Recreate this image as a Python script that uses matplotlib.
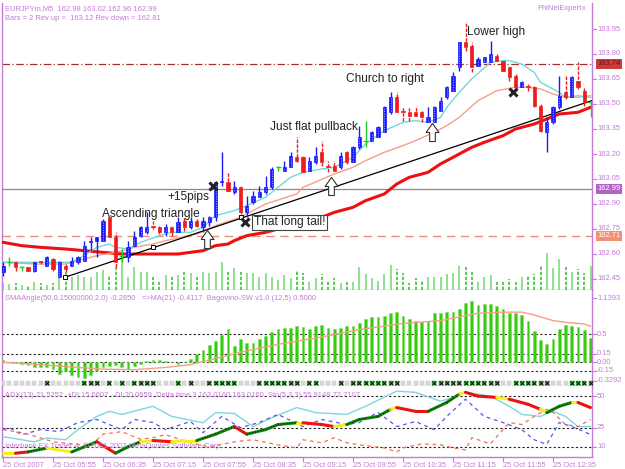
import matplotlib
matplotlib.use("Agg")
import matplotlib.pyplot as plt
from matplotlib.path import Path

W, H = 625, 469
VIOLET = '#c47ad6'
SMALL = dict(family='Liberation Sans', fontsize=5.4, color=VIOLET)

# ---------------- data ----------------
opens = [162.49,162.55,162.55,162.52,162.52,162.50,162.56,162.53,162.57,162.46,
         162.53,162.53,162.55,162.56,162.67,162.68,162.68,162.82,162.70,162.59,
         162.58,162.65,162.71,162.73,162.77,162.76,162.73,162.76,162.73,162.80,
         162.76,162.80,162.76,162.79,162.82,163.03,163.03,162.97,163.00,162.85,
         162.91,162.94,162.97,163.00,163.12,163.10,163.12,163.18,163.18,163.10,
         163.15,163.21,163.13,163.13,163.12,163.21,163.15,163.24,163.28,163.28,
         163.30,163.33,163.45,163.54,163.46,163.45,163.45,163.45,163.39,163.39,
         163.46,163.54,163.58,163.72,163.87,163.85,163.73,163.75,163.75,163.79,
         163.76,163.72,163.67,163.60,163.61,163.60,163.49,163.33,163.39,163.48,
         163.57,163.54,163.64,163.58,163.51]
highs = [162.55,162.58,162.56,162.53,162.53,162.55,162.56,162.59,162.58,162.56,
         162.54,162.58,162.59,162.68,162.70,162.70,162.81,162.82,162.73,162.63,
         162.68,162.74,162.77,162.85,162.80,162.77,162.78,162.77,162.82,162.82,
         162.82,162.81,162.82,162.83,163.04,163.21,163.09,163.04,163.01,162.95,
         162.98,163.01,163.07,163.12,163.13,163.16,163.21,163.30,163.19,163.18,
         163.24,163.28,163.16,163.16,163.21,163.22,163.25,163.37,163.40,163.34,
         163.37,163.49,163.57,163.57,163.48,163.48,163.49,163.46,163.48,163.49,
         163.54,163.61,163.69,163.87,163.99,163.87,163.78,163.78,163.88,163.80,
         163.76,163.72,163.68,163.64,163.62,163.61,163.50,163.42,163.49,163.67,
         163.67,163.67,163.75,163.60,163.51]
lows = [162.47,162.53,162.50,162.50,162.50,162.49,162.54,162.53,162.50,162.46,
        162.49,162.53,162.54,162.56,162.62,162.58,162.68,162.70,162.52,162.55,
        162.55,162.65,162.70,162.72,162.75,162.72,162.71,162.71,162.73,162.74,
        162.75,162.76,162.73,162.77,162.80,163.01,162.98,162.96,162.84,162.82,
        162.90,162.94,162.96,162.99,163.10,163.10,163.12,163.15,163.09,163.10,
        163.14,163.13,163.09,163.10,163.11,163.14,163.15,163.23,163.24,163.28,
        163.30,163.33,163.44,163.45,163.40,163.40,163.43,163.39,163.39,163.39,
        163.46,163.53,163.58,163.70,163.82,163.69,163.73,163.75,163.75,163.76,
        163.70,163.64,163.58,163.60,163.58,163.48,163.33,163.21,163.38,163.47,
        163.53,163.54,163.59,163.49,163.42]
closes = [162.53,162.55,162.52,162.52,162.50,162.55,162.55,162.58,162.51,162.55,
          162.51,162.56,162.58,162.65,162.68,162.70,162.80,162.70,162.55,162.59,
          162.64,162.70,162.76,162.76,162.76,162.73,162.76,162.73,162.79,162.76,
          162.80,162.77,162.80,162.82,163.03,163.04,162.98,163.00,162.85,162.89,
          162.95,162.97,163.00,163.11,163.12,163.12,163.19,163.16,163.09,163.16,
          163.19,163.15,163.12,163.10,163.19,163.15,163.24,163.30,163.28,163.33,
          163.36,163.48,163.54,163.45,163.45,163.43,163.43,163.42,163.42,163.48,
          163.52,163.60,163.67,163.87,163.84,163.72,163.77,163.78,163.80,163.76,
          163.70,163.66,163.60,163.63,163.60,163.49,163.34,163.39,163.48,163.55,
          163.54,163.66,163.60,163.51,163.51]
volumes = [7,6,7,5,5,8,7,5,7,13,18,13,15,13,13,18,20,15,23,40,
           13,23,18,18,13,8,15,13,15,18,17,13,18,17,18,28,18,22,18,17,
           17,13,17,13,10,15,12,20,17,8,12,16,8,12,7,8,8,23,16,12,
           9,16,25,21,17,7,12,10,13,13,13,16,17,24,23,18,8,13,15,8,
           8,11,8,13,15,16,25,37,22,31,23,18,21,17,24]

# moving averages (bar index, price)
ma_fast_idx = [0,3,6,9,11,13,15,17,18,20,22,25,27,30,32,34,37,39,42,44,46,48,51,53,56,58,61,64,66,68,70,71,73,75,78,80,81,83,85,86,89,90,92,94]
ma_fast_val = [162.55,162.55,162.55,162.55,162.55,162.59,162.64,162.66,162.64,162.63,162.67,162.71,162.73,162.73,162.76,162.83,162.86,162.89,162.94,163.00,163.06,163.09,163.11,163.12,163.18,163.26,163.34,163.39,163.40,163.39,163.42,163.48,163.57,163.65,163.75,163.76,163.76,163.74,163.69,163.63,163.57,163.54,163.54,163.55]
ma_mid_idx = [0,5,10,13,15,18,21,24,26,31,34,38,42,47,48,53,56,58,61,64,66,69,71,73,76,79,82,84,86,88,90,92,94]
ma_mid_val = [162.55,162.54,162.54,162.57,162.59,162.61,162.64,162.66,162.68,162.72,162.77,162.82,162.90,162.96,163.00,163.08,163.12,163.16,163.21,163.25,163.28,163.33,163.37,163.42,163.52,163.58,163.60,163.60,163.59,163.56,163.54,163.55,163.54]
ma_slow_idx = [0,3,6,10,13,16,19,22,25,28,30,32,34,36,37,39,42,44,46,48,51,53,56,58,61,63,65,68,70,72,75,77,80,82,85,87,89,92,94]
ma_slow_val = [162.67,162.65,162.64,162.63,162.62,162.61,162.60,162.60,162.60,162.60,162.61,162.62,162.65,162.66,162.68,162.71,162.73,162.75,162.78,162.79,162.82,162.85,162.88,162.92,162.96,163.02,163.06,163.09,163.14,163.18,163.24,163.27,163.31,163.35,163.38,163.41,163.44,163.45,163.48]

trend_idx = [9.9, 94.2]
trend_val = [162.46, 163.52]
trend_marks_idx = [9.9, 24, 38]
trend_marks_val = [162.46, 162.64, 162.82]

level_dashdot = 163.74
level_solid = 162.99
level_dash = 162.71
price_ticks = [163.95,163.80,163.65,163.50,163.35,163.20,163.05,162.90,162.75,162.60,162.45]

notes = [("Lower high", 74.3, 163.93), ("Church to right", 54.9, 163.65),
         ("Just flat pullback", 42.7, 163.36), ("+15pips", 26.3, 162.94),
         ("Ascending triangle", 15.8, 162.84)]
crosses_idx = [33.6, 38.7, 81.6]
crosses_val = [163.01, 162.79, 163.57]
arrows_idx = [32.7, 52.5, 68.6]
arrows_val = [162.69, 163.01, 163.33]

# SMAAngle histogram
angle = [0.05,0.01,-0.015,-0.03,-0.05,-0.09,-0.08,-0.08,-0.12,-0.21,
         -0.16,-0.22,-0.26,-0.27,-0.22,-0.15,-0.09,-0.06,-0.05,-0.09,
         -0.12,-0.06,-0.03,0.03,0.04,0.04,0.03,0.01,-0.02,0.00,
         0.06,0.15,0.22,0.30,0.37,0.49,0.59,0.29,0.42,0.35,
         0.35,0.41,0.47,0.54,0.59,0.61,0.61,0.64,0.62,0.59,
         0.64,0.66,0.61,0.59,0.61,0.64,0.64,0.69,0.76,0.80,
         0.80,0.83,0.88,0.89,0.83,0.76,0.74,0.71,0.74,0.88,
         0.88,0.89,0.89,0.95,1.05,1.08,1.01,1.03,1.03,1.00,
         0.94,0.88,0.88,0.84,0.74,0.55,0.39,0.33,0.42,0.59,
         0.66,0.64,0.63,0.58,0.43]
angle_ma_idx = [0,6,12,16,21,26,30,33,38,44,51,57,64,70,76,80,83,85,88,90,93,94]
angle_ma_val = [0.0,-0.04,-0.09,-0.12,-0.13,-0.09,-0.04,0.04,0.18,0.32,0.45,0.58,0.69,0.74,0.87,0.89,0.89,0.84,0.74,0.71,0.68,0.64]
angle_levels = [0.5, 0.15, 0.0, -0.15]
strip_green = [7,13,14,15,17,19,21,22,23,24,28,30,33,34,35,36,37,41,42,43,44,45,46,47,49,50,54,
               56,57,58,59,60,61,62,63,69,70,71,72,73,74,75,76,77,78,79,82,83,84,85,86,87,91,92,93,94]

# ADX panel
adx_idx = [0,5,7,10,12,15,17,19,24,27,32,34,37,40,43,47,50,55,58,63,66,70,72,74,78,81,83,86,88,90,92,94]
adx_val = [18,14,17,15.6,23.6,34,38,35.6,42,34,29,37,36.4,26,33,41,37,35.6,42,54,53,46,49,53,50,42,35.6,34,38,34,26,26]
pdi_idx = [0,1,3,6,9,12,15,19,21,24,26,30,32,35,38,41,44,48,51,55,57,60,63,66,69,71,74,77,80,83,85,87,89,91,93,94]
pdi_val = [23.6,25.2,19.6,23.6,22,29.2,31.6,23.6,31.6,29.2,23.6,30,21.2,34,25.2,29.2,35.6,26,31.6,27.6,29.2,37.2,26,30,23.6,34,47.6,34,29.2,23.6,15.6,12,29.2,26,22,19.6]
mdi_idx = [0,3,6,8,11,14,16,19,22,24,26,30,33,37,40,44,47,48,51,53,55,57,61,63,64,67,70,72,74,75,78,81,83,85,87,88,90,92,94]
mdi_val = [23.6,21.2,17.2,14,12.4,10.8,20,22,16,17.2,19.6,13.2,10,14,15.6,11.6,9.2,15.6,13.2,17.2,13.2,11.6,9.2,6,9.2,12.4,11.6,9.2,7.6,17.2,12.4,29.2,27.6,34,39.6,37.2,27.6,26,31.6]
sto_idx = [0,2,4,7,11,13,15,18,20,22,24,27,29,31,34,37,39,42,44,47,48,51,53,55,57,60,62,63,66,68,71,73,74,76,79,81,84,86,87,89,91,92,94]
sto_val = [5,5,6,9,6,10,14,5,10,14,15,14,15,15,20,26,20,23.6,27.6,29,29,27.6,26,27.6,31.6,34,39.6,41,38,38,45,51.6,53,50,49,47.6,43.6,39.6,37,42,45,45,41]
sto_col = ['y','r','g','y','g','g','r','g','g','y','r','y','y','g','g','r','g','g','g','y','r','r','y','g','g','g','y','r','r','g','g','y','r','r','y','r','r','y','g','g','y','r','r']
adx_levels = [50, 25, 10]

time_labels = ["25 Oct 2007","25 Oct 05:55","25 Oct 06:35","25 Oct 07:15","25 Oct 07:55",
               "25 Oct 08:35","25 Oct 09:15","25 Oct 09:55","25 Oct 10:35","25 Oct 11:15",
               "25 Oct 11:55","25 Oct 12:35"]
time_label_idx = [0,8,16,24,32,40,48,56,64,72,80,88]

# ---------------- layout helpers ----------------
fig = plt.figure(figsize=(W/100, H/100), dpi=100)
fig.patch.set_facecolor('white')

def ax_at(x0, y0, x1, y1):
    return fig.add_axes([x0/W, 1 - y1/H, (x1-x0)/W, (y1-y0)/H])

def ftext(x, y, s, **kw):
    fig.text(x/W, 1 - y/H, s, **kw)

XL = (-0.16, 94.24)
ax1 = ax_at(2, 3, 592, 290)
ax2 = ax_at(2, 290, 592, 386)
ax3 = ax_at(2, 386, 592, 457)
for a in (ax1, ax2, ax3):
    a.set_xlim(*XL)
    a.set_xticks([])
    a.set_yticks([])
    a.set_facecolor('white')
    for s in a.spines.values():
        s.set_color(VIOLET)
        s.set_linewidth(1.0)
    a.spines['top'].set_visible(False)

ax1.set_ylim(162.384, 164.106)

# volumes (1 unit = 1 px = 0.006 price)
for i, v in enumerate(volumes):
    if closes[i] >= opens[i]:
        ax1.vlines(i, 162.384, 162.384 + v * 0.006, color='#8fe08f', lw=1.4, zorder=1)
    else:
        ax1.vlines(i, 162.384, 162.384 + v * 0.006, color='#3cc23c', lw=1.2, ls=(0, (2, 1)), zorder=1)

# horizontal levels
ax1.axhline(level_dashdot, color='#a03030', lw=0.9, ls=(0, (6, 2, 1, 2)), zorder=2)
ax1.axhline(level_solid, color='#888888', lw=0.9, zorder=2)
ax1.axhline(level_dash, color='#f08a78', lw=1.0, ls=(0, (6, 4)), zorder=2)

# moving averages
ax1.plot(ma_slow_idx, ma_slow_val, color='#ee1010', lw=2.2, zorder=3)
ax1.plot(ma_mid_idx, ma_mid_val, color='#f4a088', lw=1.0, zorder=3)
ax1.plot(ma_fast_idx, ma_fast_val, color='#70d8dc', lw=1.0, zorder=3)

# trendline
ax1.plot(trend_idx, trend_val, color='black', lw=0.9, zorder=4)
ax1.plot(trend_marks_idx, trend_marks_val, 's', ms=3.5, mfc='white', mec='black', mew=0.7, zorder=5)

# candles
for i in range(len(opens)):
    o, h, l, c = opens[i], highs[i], lows[i], closes[i]
    if abs(c - o) < 0.005:
        ax1.vlines(i, l, h, color='#22cc22', lw=1.0, zorder=6)
        ax1.hlines(o, i - 0.4, i + 0.4, color='#22cc22', lw=1.0, zorder=6)
        continue
    if c > o:
        col = '#1a1aff'
        ax1.vlines(i, l, h, color=col, lw=1.0, zorder=6)
        ax1.bar(i, c - o, bottom=o, width=0.5, color=col, edgecolor=col, lw=0.5, zorder=7)
        if c - o > 0.02:
            ax1.vlines(i, o + 0.006, c - 0.006, color='#aab4ff', lw=0.7, ls=(0, (1, 1.5)), zorder=8)
    else:
        col = '#ee1c1c'
        ax1.vlines(i, l, h, color=col, lw=1.0, ls=(0, (2.5, 1)), zorder=6)
        ax1.bar(i, o - c, bottom=c, width=0.5, color=col, edgecolor=col, lw=0.5, zorder=7)

# annotations
for t, xi, yv in notes:
    ax1.text(xi, yv, t, fontsize=8.6, family='Liberation Sans', color='#222222', ha='left', va='center', zorder=9)
ax1.text(40.1, 162.79, "That long tail!", fontsize=8.6, family='Liberation Sans', color='#222222',
         ha='left', va='center', zorder=9,
         bbox=dict(boxstyle='square,pad=0.15', fc='white', ec='#444444', lw=0.8))
ax1.plot(crosses_idx, crosses_val, 'x', color='#222222', ms=6, mew=2.2, zorder=10)
arrow = Path([(-0.5, 0), (0, 0.7), (0.5, 0), (0.22, 0), (0.22, -0.7), (-0.22, -0.7), (-0.22, 0), (-0.5, 0)])
ax1.plot(arrows_idx, arrows_val, marker=arrow, ls='none', ms=13, mfc='white', mec='#333333', mew=0.8, zorder=10)

# headers
ftext(5, 9, "EURJPYm,M5  162.98 163.02 162.96 162.99", va='center', ha='left', **SMALL)
ftext(5, 18, "Bars = 2 Rev up =  163.12 Rev down = 162.81", va='center', ha='left', **SMALL)
ftext(537, 9, "PhiNelExpert", va='center', ha='left', **SMALL)
ftext(582, 9, "x", va='center', ha='left', **SMALL)

# right price labels
def right_label(ax, y, txt, fc=None, tc=VIOLET):
    ax.annotate(txt, xy=(1, y), xycoords=('axes fraction', 'data'), xytext=(3.6, 0),
                textcoords='offset points', family='Liberation Sans', fontsize=5.4, color=tc,
                va='center', ha='left',
                bbox=None if fc is None else dict(boxstyle='square,pad=0.2', fc=fc, ec='none'),
                annotation_clip=False)

def right_tick(ax, y):
    ax.plot([1, 1.006], [y, y], transform=ax.get_yaxis_transform(), color=VIOLET, lw=0.8, clip_on=False)

for p in price_ticks:
    right_label(ax1, p, f"{p:.2f}")
    right_tick(ax1, p)
right_label(ax1, level_dashdot, f"{level_dashdot:.2f}", fc='#cc3a3a', tc='#6a1010')
right_label(ax1, level_solid, f"{level_solid:.2f}", fc='#b460c8', tc='white')
right_label(ax1, level_dash, f"{level_dash:.2f}", fc='#f49070', tc='white')

# ---------------- panel 2 ----------------
ax2.set_ylim(-0.4187, 1.2826)
ax2.bar(range(len(angle)), angle, width=0.45, color='#33cc11', edgecolor='#7fe05a', lw=0.4, zorder=3)
for lv in angle_levels:
    ax2.axhline(lv, color='#222222', lw=0.8, ls=(0, (2, 2)), zorder=2)
ax2.plot(angle_ma_idx, angle_ma_val, color='#f4a088', lw=1.0, zorder=4)
gs = set(strip_green)
xs_g = [i for i in range(len(angle)) if i in gs]
xs_n = [i for i in range(len(angle)) if i not in gs]
ax2.plot(xs_n, [-0.37]*len(xs_n), 's', ms=3.3, mfc='#d8d8d8', mec='#c8c8c8', mew=0.3, zorder=3)
ax2.plot(xs_g, [-0.37]*len(xs_g), 's', ms=3.3, mfc='#33bb33', mec='#117711', mew=0.3, zorder=3)
ax2.plot(xs_g, [-0.37]*len(xs_g), 'x', ms=2.2, color='black', mew=0.6, zorder=4)
ftext(5, 298, "SMAAngle(50,0.15000000,2.0) -0.2850   =>MA(21) -0.4117  Bagovino-SW v1.0 (12,5) 0.5000",
      va='center', ha='left', **SMALL)
for v, t in [(1.1393, "1.1393"), (0.5, "0.5"), (0.15, "0.15"), (0.0, "0.00"), (-0.15, "-0.15"), (-0.3292, "-0.3292")]:
    right_label(ax2, v, t)
    right_tick(ax2, v)

# ---------------- panel 3 ----------------
ax3.set_ylim(2, 58)
for lv in adx_levels:
    ax3.axhline(lv, color='#222222', lw=0.8, ls=(0, (2, 2)), zorder=2)
ax3.plot(adx_idx, adx_val, color='#7fd6dc', lw=1.0, zorder=3)
ax3.plot(pdi_idx, pdi_val, color='#5555ee', lw=0.9, ls=(0, (3, 3)), zorder=3)
ax3.plot(mdi_idx, mdi_val, color='#f07050', lw=0.9, ls=(0, (3, 3)), zorder=3)
cmap = {'r': '#ee1111', 'g': '#118811', 'y': '#f4f020'}
for k in range(len(sto_idx) - 1):
    ax3.plot(sto_idx[k:k+2], sto_val[k:k+2], color=cmap[sto_col[k]], lw=2.2, zorder=4, solid_capstyle='round')
    if sto_col[k] == 'g':
        ax3.plot(sto_idx[k:k+2], sto_val[k:k+2], color='#002200', lw=0.8, ls=(0, (1, 1.5)), zorder=5)
ftext(5, 395, "ADX(13) 21.5252  +DI:15.6607  -DI:20.0659  Delta time 3 163.0160 163.0160  Sto(5,3,3) 55.9148 72.7107",
      va='center', ha='left', **SMALL)
ftext(5, 446, "Interbank FX Trader 4, \u00a9 2001-2007 MetaQuotes Software Corp.", va='center', ha='left', **SMALL)
for v in adx_levels:
    right_label(ax3, v, str(v))
    right_tick(ax3, v)

# time axis
for li, t in zip(time_label_idx, time_labels):
    ax3.plot([li, li], [0, -0.05], transform=ax3.get_xaxis_transform(), color=VIOLET, lw=0.8, clip_on=False)
    ax3.text(li, -0.075, t, transform=ax3.get_xaxis_transform(), ha='left', va='top', **SMALL)

fig.savefig('out.png', dpi=100, facecolor='white')
